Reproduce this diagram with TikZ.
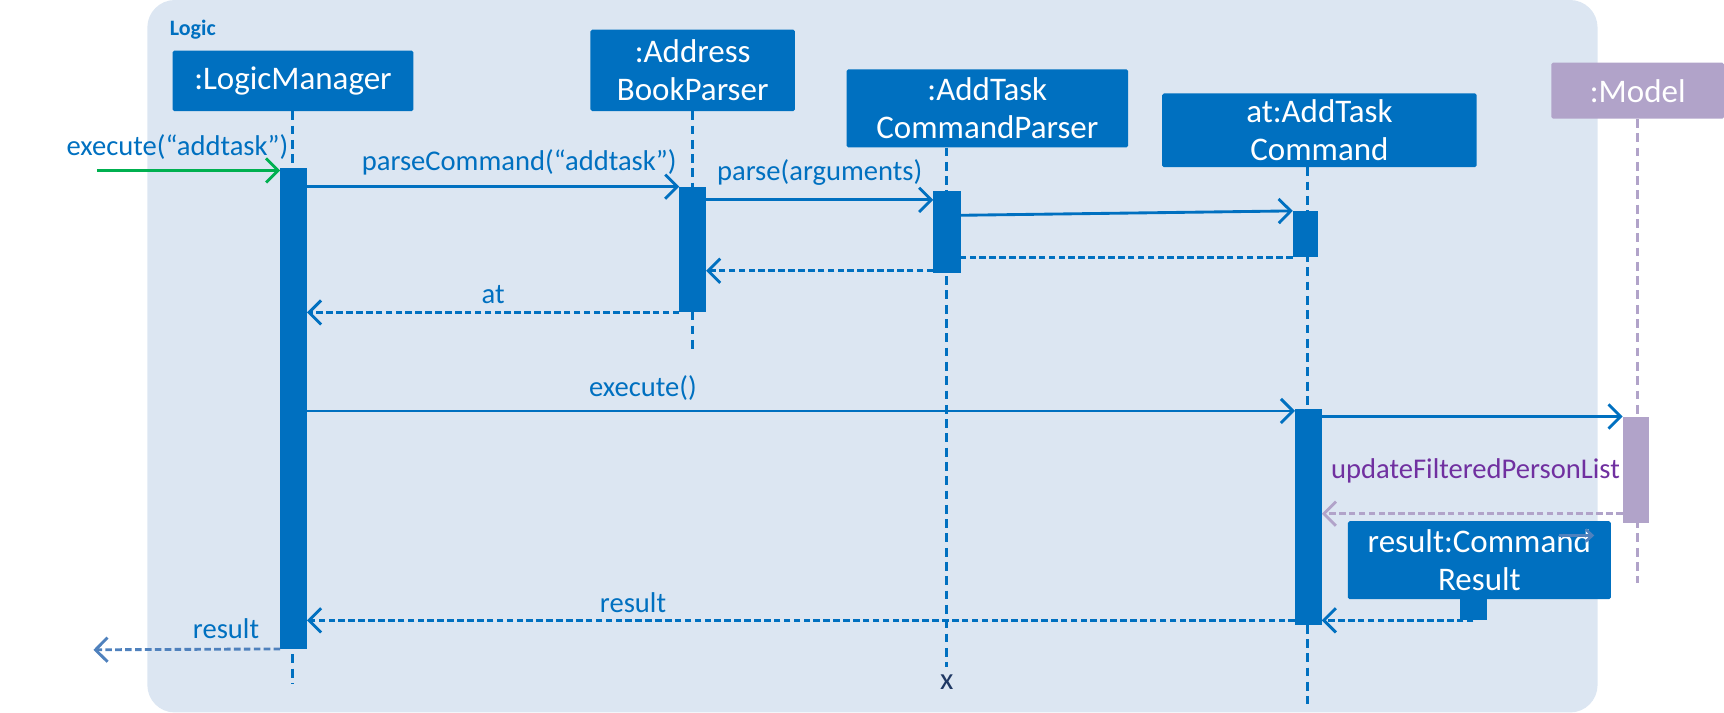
\documentclass[tikz,border=0pt]{standalone}
\usepackage{fontspec}
\setmainfont{Carlito}
\usepackage{xcolor}
\usetikzlibrary{positioning,arrows.meta}
\definecolor{uml}{HTML}{0070C0}
\definecolor{bgblue}{HTML}{DCE6F2}
\definecolor{mbox}{HTML}{B1A3C9}
\definecolor{tpurple}{HTML}{7030A0}
\definecolor{ggreen}{HTML}{00B050}
\definecolor{steel}{HTML}{4F81BD}
\definecolor{navy}{HTML}{1F3864}

\begin{document}
\begin{tikzpicture}[x=1pt, y=-1pt,
  >={Straight Barb[length=11pt,width=22pt]},
  obj/.style={fill=uml, text=white, rounded corners=1.5pt, inner sep=0pt, align=center, font=\fontsize{30}{35}\selectfont},
  act/.style={fill=uml, minimum width=24pt, inner sep=0pt},
  life/.style={uml, line width=2.6pt, dash pattern=on 8pt off 5pt},
  call/.style={uml, line width=2.6pt, ->},
  reply/.style={uml, line width=2.6pt, dash pattern=on 6pt off 3pt, ->},
  lbl/.style={text=uml, font=\fontsize{26}{30}\selectfont, inner sep=2pt}]
  \useasboundingbox (0,0) rectangle (1568,648);
  \fill[bgblue, rounded corners=25pt] (134,0) rectangle (1453,648);
  \node[anchor=west, text=uml, font=\bfseries\fontsize{20}{24}\selectfont] (logic) at (151,27) {Logic};

  \node[obj, minimum width=219pt, minimum height=55pt] (lm)    at (266.5,73.5) {:LogicManager};
  \node[obj, minimum width=186pt, minimum height=74pt] (abp)   at (630,64)     {:Address\\BookParser};
  \node[obj, minimum width=256pt, minimum height=71pt] (acp)   at (898,98.5)   {:AddTask\\CommandParser};
  \node[obj, minimum width=286pt, minimum height=67pt] (atc)   at (1200,118.5) {at:AddTask\\Command};
  \node[obj, fill=mbox, minimum width=157pt, minimum height=51pt] (model) at (1489.5,82.5) {:Model};

  \coordinate (lmEnd)    at (266,622);
  \coordinate (abpEnd)   at (630,322);
  \coordinate (acpEnd)   at (861,607);
  \coordinate (atcEnd)   at (1189,640);
  \coordinate (modelEnd) at (1489,530);
  \draw[life] (lmEnd |- lm.south) -- (lmEnd);
  \draw[life] (abpEnd |- abp.south) -- (abpEnd);
  \draw[life] (acpEnd |- acp.south) -- (acpEnd);
  \draw[life] (atcEnd |- atc.south) -- (atcEnd);
  \draw[life, mbox] (modelEnd |- model.south) -- (modelEnd);
  \node[text=navy, font=\fontsize{28}{30}\selectfont, inner sep=0pt] (kill) at (861,620) {x};

  \node[act, minimum height=437pt] (lmAct)  at (267,371.5) {};
  \node[act, minimum height=114pt] (abpAct) at (630,227) {};
  \node[act, minimum width=25pt, minimum height=74pt] (acpAct) at (861.5,211) {};
  \node[act, minimum width=23pt, minimum height=42pt] (atcAct) at (1187.5,213) {};
  \node[act, minimum height=196pt] (atcRun) at (1190,470) {};
  \node[act, fill=mbox, minimum height=97pt] (modelAct) at (1488,427.5) {};
  \node[obj, minimum width=239pt, minimum height=71pt] (res) at (1345.5,509.5) {result:Command\\Result};
  \node[act, minimum height=19pt] (resAct) at (1340,554.5) {};

  \coordinate (start) at (88,155);
  \draw[call, ggreen] (start) -- (start -| lmAct.west) node[lbl, above=7pt, pos=0.44] {execute(“addtask”)};
  \draw[call] (lmAct.east |- abpAct.north) -- (abpAct.north west) node[lbl, above=7pt, pos=0.57] {parseCommand(“addtask”)};
  \coordinate[below=8pt of acpAct.north west] (p3);
  \draw[call] (p3 -| abpAct.east) -- (p3) node[lbl, above=10pt, midway] {parse(arguments)};
  \coordinate[below=22pt of acpAct.north east] (p4);
  \draw[call] (p4) -- (atcAct.north west);
  \draw[reply, -] (atcAct.south west) -- (atcAct.south west -| acpAct.east);
  \coordinate[above=2pt of acpAct.south west] (p6);
  \draw[reply] (p6) -- (p6 -| abpAct.east);
  \draw[reply] (abpAct.south west) -- (abpAct.south west -| lmAct.east) node[lbl, above=5pt, midway] {at};
  \coordinate[below=2pt of atcRun.north west] (p8);
  \draw[call] (p8 -| lmAct.east) -- (p8) node[lbl, above=6pt, pos=0.34] {execute()};
  \draw[call] (atcRun.east |- modelAct.north) -- (modelAct.north west);
  \node[text=tpurple, font=\fontsize{26}{30}\selectfont, inner sep=0pt] (upd) at (1342,428) {updateFilteredPersonList};
  \coordinate[above=9pt of modelAct.south west] (p11);
  \draw[reply, mbox] (p11) -- (p11 -| atcRun.east);
  \coordinate (tick) at (1418,487);
  \draw[steel, line width=2.4pt, -{Straight Barb[length=6pt,width=11pt]}] (tick) -- ++(32,0);
  \draw[reply] (resAct.south) -- (resAct.south -| atcRun.east);
  \draw[reply] (atcRun.west |- resAct.south) -- (lmAct.east |- resAct.south) node[lbl, above=4pt, pos=0.67] {result};
  \coordinate (out) at (85,591);
  \draw[reply, steel] (lmAct.south west) -- (out) node[lbl, above=6pt, pos=0.29] {result};
\end{tikzpicture}
\end{document}
